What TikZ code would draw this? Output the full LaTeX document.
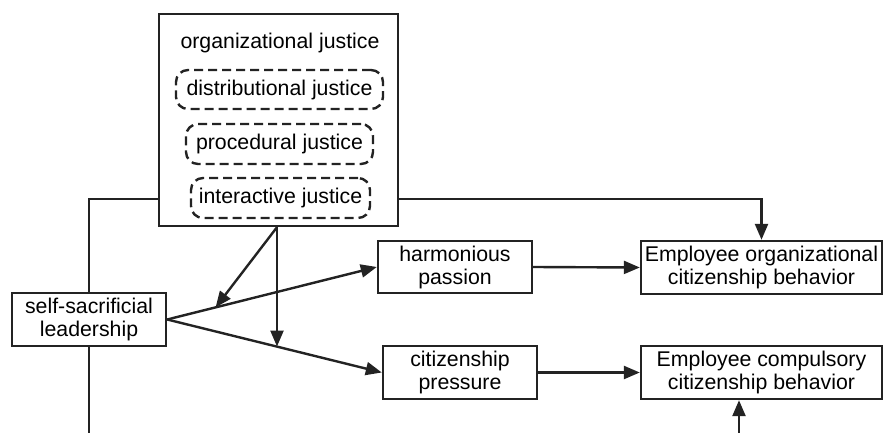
\documentclass[tikz,border=0pt]{standalone}
\usepackage{fontspec}
\setmainfont{Liberation Sans}
\usetikzlibrary{arrows.meta,calc}
\definecolor{ln}{RGB}{35,35,35}
\tikzset{
  box/.style={draw=ln, line width=2.4pt, rectangle, inner sep=2pt, align=center, font=\fontsize{21.3}{23}\selectfont, text=black},
  dbox/.style={draw=ln, line width=2.4pt, rectangle, rounded corners=12pt, dash pattern=on 9pt off 5pt, inner sep=0pt, font=\fontsize{21.3}{23}\selectfont, text=black},
  arr/.style={draw=ln, line width=2.4pt, -{Triangle[length=16pt,width=13pt]}},
  ln/.style={draw=ln, line width=2.4pt}
}
\begin{document}
\begin{tikzpicture}[x=1pt,y=-1pt]
\useasboundingbox (0,0) rectangle (884,433);
% organizational justice box
\node[box, minimum width=239pt, minimum height=212pt] (oj) at (278.5,120) {};
\node[font=\fontsize{21.3}{23}\selectfont, inner sep=0pt] (ojt) at (280,43) {organizational justice};
\node[dbox, minimum width=207pt, minimum height=39pt] (dj) at (279.5,89.5) {distributional justice};
\node[dbox, minimum width=187pt, minimum height=40pt] (pj) at (279.5,144) {procedural justice};
\node[dbox, minimum width=179pt, minimum height=40pt] (ij) at (280.5,198) {interactive justice};
% other boxes
\node[box, minimum width=154pt, minimum height=53pt] (ssl) at (89,319.5) {self-sacrificial\\leadership};
\node[box, minimum width=154pt, minimum height=52pt] (hp) at (455,267) {harmonious\\passion};
\node[box, minimum width=154pt, minimum height=53pt] (cp) at (460,372.5) {citizenship\\pressure};
\node[box, minimum width=241pt, minimum height=53pt] (eocb) at (761.5,267.5) {Employee organizational\\citizenship behavior};
\node[box, minimum width=241pt, minimum height=53pt] (eccb) at (761.5,372.5) {Employee compulsory\\citizenship behavior};
% coordinates
\coordinate (src) at ([xshift=-1.5pt]oj.south);
\coordinate (ojl) at ([yshift=28pt]oj.south west);
\coordinate (ojr) at ([yshift=28pt]oj.south east);
\coordinate (bl) at (89,433);
\coordinate (br) at (739,433);
\coordinate (j1) at ($(ssl.east)!0.231!(hp.west)$);
\coordinate (j2) at ($(ssl.east)!0.51!(cp.west)$);
% connectors
\draw[arr] (ssl.east) -- (hp.west);
\draw[arr] (ssl.east) -- (cp.west);
\draw[arr] (src) -- (j1);
\draw[arr] (src) -- (src |- j2);
\draw[arr] (hp.east) -- (eocb.west);
\draw[arr] (cp.east) -- (eccb.west);
\draw[arr] (ojr) -| (eocb.north);
\draw[ln] (ojl) -| (ssl.north);
\draw[ln] (ssl.south) -- (bl);
\draw[arr] (br) -- (br |- eccb.south);
\end{tikzpicture}
\end{document}
